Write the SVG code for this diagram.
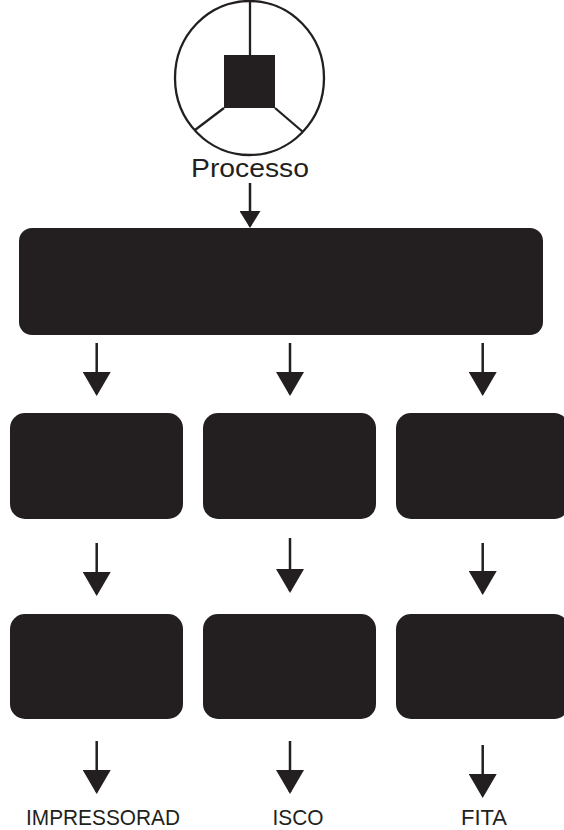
<svg xmlns="http://www.w3.org/2000/svg" width="564" height="830" viewBox="0 0 564 830">
  <style>
    .box { fill: #231f20; }
    .conn { stroke: #231f20; stroke-width: 2.5; fill: none; }
    .lbl { font-family: "Liberation Sans", Arial, sans-serif; fill: #231f20; text-anchor: middle; }
    .sym { fill: none; stroke: #231f20; stroke-width: 2.3; }
  </style>
  <defs>
    <marker id="ah" markerUnits="userSpaceOnUse" markerWidth="24" markerHeight="28" viewBox="0 0 24 28" refX="22" refY="14" orient="auto">
      <path d="M0,0 L24,14 L0,28 Z" fill="#231f20"/>
    </marker>
    <marker id="ahs" markerUnits="userSpaceOnUse" markerWidth="17" markerHeight="21" viewBox="0 0 17 21" refX="15" refY="10.5" orient="auto">
      <path d="M0,0 L17,10.5 L0,21 Z" fill="#231f20"/>
    </marker>
  </defs>
  <rect width="564" height="830" fill="#ffffff"/>

  <g id="processo">
    <ellipse class="sym" cx="249.5" cy="78" rx="74.5" ry="77"/>
    <line class="sym" x1="250" y1="1" x2="250" y2="55"/>
    <line class="sym" x1="224" y1="108" x2="195" y2="130"/>
    <line class="sym" x1="275" y1="108" x2="303" y2="132"/>
    <rect x="224" y="55" width="51" height="53" fill="#231f20"/>
    <text class="lbl" x="250" y="177" font-size="26" textLength="118" lengthAdjust="spacingAndGlyphs">Processo</text>
  </g>

  <g id="main-box">
    <rect class="box" x="19" y="228" width="524" height="107" rx="13" ry="13"/>
  </g>

  <g id="col1-row2"><rect class="box" x="10" y="413" width="173" height="106" rx="15" ry="15"/></g>
  <g id="col2-row2"><rect class="box" x="203" y="413" width="173" height="106" rx="15" ry="15"/></g>
  <g id="col3-row2"><rect class="box" x="396" y="413" width="173" height="106" rx="15" ry="15"/></g>

  <g id="col1-row3"><rect class="box" x="10" y="614" width="173" height="105" rx="15" ry="15"/></g>
  <g id="col2-row3"><rect class="box" x="203" y="614" width="173" height="105" rx="15" ry="15"/></g>
  <g id="col3-row3"><rect class="box" x="396" y="614" width="173" height="105" rx="15" ry="15"/></g>

  <g id="out-impressora"><text class="lbl" x="103" y="825" font-size="22" textLength="154" lengthAdjust="spacingAndGlyphs">IMPRESSORAD</text></g>
  <g id="out-isco"><text class="lbl" x="298" y="825" font-size="22" textLength="51" lengthAdjust="spacingAndGlyphs">ISCO</text></g>
  <g id="out-fita"><text class="lbl" x="484" y="825" font-size="22" textLength="46" lengthAdjust="spacingAndGlyphs">FITA</text></g>

  <g id="connectors">
    <line class="conn" x1="250" y1="183" x2="250" y2="226" marker-end="url(#ahs)"/>

    <line class="conn" x1="96.7" y1="343" x2="96.7" y2="394" marker-end="url(#ah)"/>
    <line class="conn" x1="290" y1="343" x2="290" y2="394" marker-end="url(#ah)"/>
    <line class="conn" x1="482.7" y1="343" x2="482.7" y2="394" marker-end="url(#ah)"/>

    <line class="conn" x1="96.7" y1="543" x2="96.7" y2="594" marker-end="url(#ah)"/>
    <line class="conn" x1="290" y1="538" x2="290" y2="591" marker-end="url(#ah)"/>
    <line class="conn" x1="482.7" y1="543" x2="482.7" y2="593" marker-end="url(#ah)"/>

    <line class="conn" x1="96.7" y1="741" x2="96.7" y2="792" marker-end="url(#ah)"/>
    <line class="conn" x1="290" y1="741" x2="290" y2="792" marker-end="url(#ah)"/>
    <line class="conn" x1="482.7" y1="745" x2="482.7" y2="796" marker-end="url(#ah)"/>
  </g>
</svg>
